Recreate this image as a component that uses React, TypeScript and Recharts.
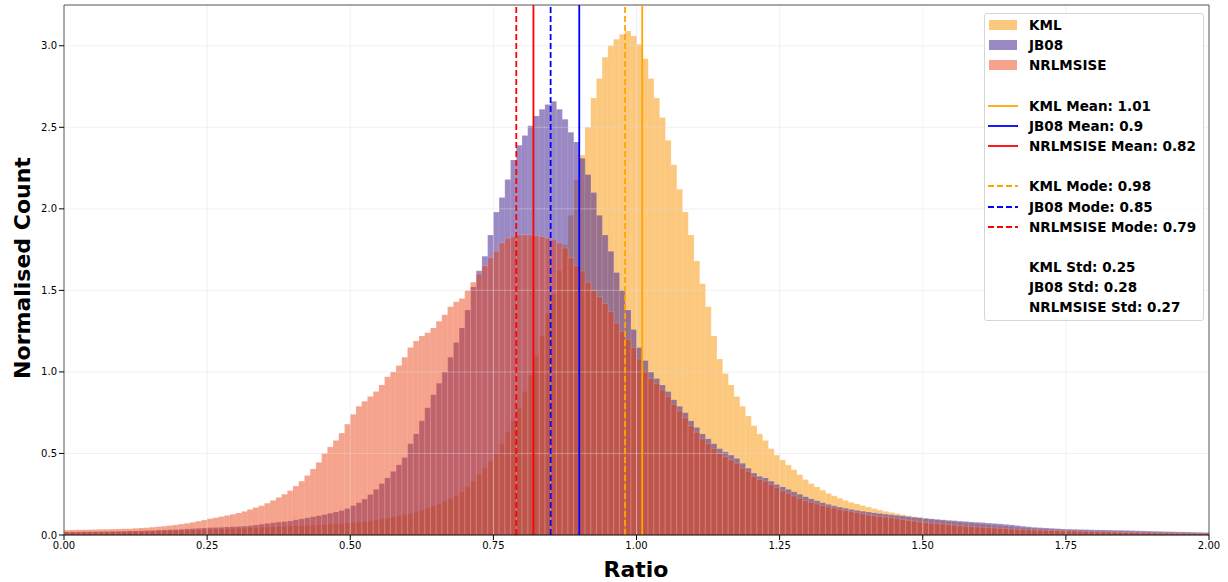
import { ComposedChart, Bar, XAxis, YAxis, ReferenceLine } from "recharts";

// histogram bins: 0.01 wide, starting at 0
const binWidth = 0.01;

const kmlCounts = [
    0.016, 0.017, 0.017, 0.018, 0.018, 0.019, 0.019, 0.020, 0.020, 0.021,
    0.021, 0.022, 0.022, 0.023, 0.023, 0.024, 0.025, 0.025, 0.026, 0.027,
    0.028, 0.029, 0.030, 0.031, 0.032, 0.034, 0.035, 0.036, 0.037, 0.039,
    0.040, 0.041, 0.043, 0.044, 0.046, 0.047, 0.049, 0.050, 0.052, 0.053,
    0.055, 0.057, 0.058, 0.060, 0.062, 0.064, 0.066, 0.068, 0.070, 0.073,
    0.076, 0.079, 0.083, 0.087, 0.092, 0.097, 0.103, 0.110, 0.117, 0.124,
    0.130, 0.140, 0.152, 0.165, 0.178, 0.192, 0.207, 0.222, 0.240, 0.265,
    0.295, 0.33, 0.37, 0.41, 0.45, 0.50, 0.56, 0.63, 0.70, 0.78,
    0.88, 0.98, 1.10, 1.22, 1.36, 1.48, 1.62, 1.78, 1.96, 2.18,
    2.33, 2.50, 2.68, 2.80, 2.93, 3.00, 3.04, 3.07, 3.09, 3.06,
    3.01, 2.92, 2.80, 2.68, 2.56, 2.42, 2.27, 2.12, 1.98, 1.84,
    1.68, 1.54, 1.40, 1.22, 1.08, 0.99, 0.92, 0.85, 0.79, 0.73,
    0.67, 0.62, 0.58, 0.53, 0.49, 0.46, 0.43, 0.40, 0.37, 0.34,
    0.315, 0.295, 0.275, 0.255, 0.240, 0.225, 0.212, 0.200, 0.190, 0.180,
    0.172, 0.162, 0.153, 0.145, 0.138, 0.131, 0.124, 0.118, 0.112, 0.107,
    0.102, 0.097, 0.093, 0.089, 0.085, 0.082, 0.078, 0.075, 0.072, 0.069,
    0.066, 0.063, 0.060, 0.057, 0.054, 0.051, 0.048, 0.045, 0.043, 0.041,
    0.039, 0.037, 0.035, 0.034, 0.032, 0.031, 0.030, 0.029, 0.028, 0.027,
    0.026, 0.025, 0.024, 0.023, 0.022, 0.021, 0.020, 0.019, 0.019, 0.018,
    0.017, 0.017, 0.016, 0.015, 0.015, 0.014, 0.014, 0.013, 0.013, 0.012,
];

const jb08Counts = [
    0.018, 0.019, 0.019, 0.020, 0.020, 0.020, 0.021, 0.021, 0.022, 0.022,
    0.023, 0.024, 0.025, 0.026, 0.027, 0.028, 0.030, 0.031, 0.032, 0.033,
    0.035, 0.037, 0.039, 0.041, 0.043, 0.045, 0.046, 0.047, 0.049, 0.050,
    0.052, 0.054, 0.057, 0.061, 0.066, 0.071, 0.075, 0.079, 0.082, 0.086,
    0.093, 0.099, 0.105, 0.112, 0.118, 0.125, 0.133, 0.141, 0.150, 0.162,
    0.180, 0.198, 0.220, 0.248, 0.280, 0.315, 0.350, 0.390, 0.430, 0.475,
    0.56, 0.62, 0.70, 0.78, 0.86, 0.93, 1.00, 1.09, 1.18, 1.27,
    1.38, 1.52, 1.62, 1.71, 1.84, 1.98, 2.07, 2.18, 2.30, 2.39,
    2.45, 2.51, 2.57, 2.61, 2.64, 2.66, 2.61, 2.55, 2.47, 2.41,
    2.31, 2.21, 2.10, 1.96, 1.84, 1.74, 1.61, 1.50, 1.38, 1.26,
    1.15, 1.07, 1.00, 0.96, 0.92, 0.88, 0.83, 0.79, 0.75, 0.70,
    0.66, 0.62, 0.59, 0.56, 0.53, 0.51, 0.49, 0.47, 0.44, 0.41,
    0.38, 0.36, 0.35, 0.33, 0.31, 0.295, 0.28, 0.265, 0.25, 0.235,
    0.222, 0.210, 0.198, 0.188, 0.179, 0.171, 0.164, 0.157, 0.151, 0.146,
    0.141, 0.136, 0.132, 0.128, 0.124, 0.120, 0.117, 0.113, 0.109, 0.106,
    0.102, 0.099, 0.096, 0.093, 0.090, 0.088, 0.085, 0.083, 0.080, 0.078,
    0.076, 0.073, 0.071, 0.068, 0.065, 0.062, 0.058, 0.054, 0.050, 0.047,
    0.045, 0.043, 0.041, 0.039, 0.037, 0.036, 0.035, 0.034, 0.033, 0.032,
    0.031, 0.031, 0.030, 0.029, 0.029, 0.028, 0.027, 0.026, 0.025, 0.024,
    0.023, 0.022, 0.021, 0.020, 0.019, 0.019, 0.018, 0.017, 0.016, 0.015,
];

const nrlmsiseCounts = [
    0.030, 0.031, 0.032, 0.032, 0.033, 0.034, 0.035, 0.035, 0.036, 0.037,
    0.038, 0.039, 0.041, 0.043, 0.045, 0.048, 0.051, 0.054, 0.058, 0.062,
    0.067, 0.072, 0.078, 0.085, 0.092, 0.100, 0.106, 0.113, 0.120, 0.127,
    0.135, 0.145, 0.157, 0.168, 0.180, 0.195, 0.212, 0.230, 0.250, 0.272,
    0.300, 0.330, 0.365, 0.405, 0.445, 0.500, 0.540, 0.580, 0.625, 0.680,
    0.740, 0.790, 0.820, 0.850, 0.880, 0.920, 0.970, 1.000, 1.040, 1.090,
    1.150, 1.190, 1.220, 1.240, 1.270, 1.310, 1.350, 1.400, 1.430, 1.450,
    1.500, 1.550, 1.600, 1.650, 1.700, 1.740, 1.790, 1.820, 1.830, 1.840,
    1.840, 1.840, 1.835, 1.830, 1.820, 1.810, 1.790, 1.760, 1.700, 1.650,
    1.620, 1.550, 1.500, 1.460, 1.420, 1.370, 1.300, 1.250, 1.200, 1.150,
    1.080, 1.010, 0.960, 0.930, 0.890, 0.850, 0.800, 0.760, 0.720, 0.670,
    0.630, 0.590, 0.560, 0.530, 0.500, 0.480, 0.460, 0.440, 0.410, 0.390,
    0.360, 0.340, 0.330, 0.310, 0.290, 0.270, 0.255, 0.240, 0.225, 0.210,
    0.200, 0.190, 0.180, 0.172, 0.165, 0.157, 0.150, 0.143, 0.137, 0.130,
    0.122, 0.118, 0.114, 0.110, 0.105, 0.100, 0.095, 0.090, 0.085, 0.080,
    0.076, 0.073, 0.070, 0.067, 0.063, 0.060, 0.057, 0.054, 0.051, 0.049,
    0.047, 0.045, 0.043, 0.041, 0.039, 0.037, 0.035, 0.034, 0.032, 0.031,
    0.030, 0.029, 0.028, 0.027, 0.026, 0.025, 0.024, 0.023, 0.022, 0.021,
    0.020, 0.019, 0.018, 0.017, 0.016, 0.015, 0.015, 0.014, 0.013, 0.013,
    0.012, 0.011, 0.011, 0.010, 0.010, 0.009, 0.009, 0.008, 0.008, 0.007,
];

const modelNames = ["KML", "JB08", "NRLMSISE"];
const histColors = ["#FAA326", "#4C2C96", "#E83400"];
const histOpacity = [0.6, 0.56, 0.45];
const lineColors = ["#FFA500", "#0000FF", "#FF0000"];
const meanValues = [1.01, 0.9, 0.82];
const modeValues = [0.98, 0.85, 0.79];
const stdValues = [0.25, 0.28, 0.27];

const xTicks = [0, 0.25, 0.5, 0.75, 1, 1.25, 1.5, 1.75, 2];
const yTicks = [0, 0.5, 1, 1.5, 2, 2.5, 3];
const yMax = 3.25;

// one row per bin, placed at the bin centre
const data = kmlCounts.map((v, i) => ({
    x: +((i + 0.5) * binWidth).toFixed(3),
    kml: v,
    jb08: jb08Counts[i],
    nrlmsise: nrlmsiseCounts[i],
}));
const seriesKeys = ["kml", "jb08", "nrlmsise"];
// every series sits on its own (same-scaled) x axis so the bars overlap instead of grouping
const axisIds = ["main", "ax2", "ax3"];

const font = "'DejaVu Sans', sans-serif";
const tickStyle = { fontFamily: font, fontSize: 10, fill: "#000" };

function LegendBox() {
    const rowTop = (i: number) => 25 + i * 20.17 - 10;
    const textStyle = {
        position: "absolute" as const,
        left: 1029,
        fontFamily: font,
        fontWeight: "bold" as const,
        fontSize: 13.5,
        lineHeight: "20px",
        color: "#000",
        whiteSpace: "nowrap" as const,
    };
    const rows: any[] = [];
    modelNames.forEach((name, k) => {
        rows.push(
            <div key={"p" + k}>
                <div
                    style={{
                        position: "absolute",
                        left: 989,
                        top: rowTop(k) + 5,
                        width: 28,
                        height: 10,
                        background: histColors[k],
                        opacity: histOpacity[k],
                    }}
                />
                <div style={{ ...textStyle, top: rowTop(k) }}>{name}</div>
            </div>
        );
        rows.push(
            <div key={"m" + k}>
                <svg style={{ position: "absolute", left: 988, top: rowTop(k + 4) }} width={30} height={20}>
                    <line x1={0} x2={30} y1={10} y2={10} stroke={lineColors[k]} strokeWidth={1.8} />
                </svg>
                <div style={{ ...textStyle, top: rowTop(k + 4) }}>{name} Mean: {meanValues[k]}</div>
            </div>
        );
        rows.push(
            <div key={"d" + k}>
                <svg style={{ position: "absolute", left: 988, top: rowTop(k + 8) }} width={30} height={20}>
                    <line x1={0} x2={30} y1={10} y2={10} stroke={lineColors[k]} strokeWidth={1.8} strokeDasharray="6 3" />
                </svg>
                <div style={{ ...textStyle, top: rowTop(k + 8) }}>{name} Mode: {modeValues[k]}</div>
            </div>
        );
        rows.push(
            <div key={"s" + k} style={{ ...textStyle, top: rowTop(k + 12) }}>
                {name} Std: {stdValues[k]}
            </div>
        );
    });
    return (
        <>
            <div
                style={{
                    position: "absolute",
                    left: 984,
                    top: 13,
                    width: 218,
                    height: 306,
                    border: "1px solid #d6d6d6",
                    borderRadius: 3,
                    background: "rgba(255,255,255,0.8)",
                }}
            />
            {rows}
        </>
    );
}

export default function App() {
    return (
        <div style={{ position: "absolute", left: 0, top: 0, width: 1228, height: 582, background: "#fff" }}>
            <ComposedChart
                width={1228}
                height={582}
                data={data}
                margin={{ top: 5, right: 19, bottom: 0, left: 0 }}
                barCategoryGap={0}
                barGap={0}
            >
                <XAxis xAxisId="ax2" dataKey="x" type="number" domain={[0, 2]} orientation="top" height={0} hide />
                <XAxis xAxisId="ax3" dataKey="x" type="number" domain={[0, 2]} orientation="top" height={0} hide />
                <XAxis
                    xAxisId="main"
                    dataKey="x"
                    type="number"
                    domain={[0, 2]}
                    ticks={xTicks}
                    tickFormatter={(v: number) => v.toFixed(2)}
                    height={47}
                    tick={tickStyle}
                    tickSize={5}
                    tickMargin={2}
                    axisLine={{ stroke: "#000", strokeWidth: 1.2 }}
                    tickLine={{ stroke: "#000" }}
                />
                <YAxis
                    type="number"
                    domain={[0, yMax]}
                    ticks={yTicks}
                    tickFormatter={(v: number) => v.toFixed(1)}
                    width={64}
                    tick={tickStyle}
                    tickSize={5}
                    tickMargin={2}
                    axisLine={{ stroke: "#555" }}
                    tickLine={{ stroke: "#000" }}
                />
                {seriesKeys.map((key, k) => (
                    <Bar
                        key={key}
                        dataKey={key}
                        xAxisId={axisIds[k]}
                        fill={histColors[k]}
                        fillOpacity={histOpacity[k]}
                        stroke="#ffffff"
                        strokeOpacity={0.25}
                        strokeWidth={0.6}
                        isAnimationActive={false}
                    />
                ))}
                {xTicks.slice(1, -1).map((t) => (
                    <ReferenceLine key={"gx" + t} xAxisId="main" x={t} stroke="#dddddd" strokeOpacity={0.4} />
                ))}
                {yTicks.slice(1).map((t) => (
                    <ReferenceLine key={"gy" + t} xAxisId="main" y={t} stroke="#dddddd" strokeOpacity={0.4} />
                ))}
                <ReferenceLine xAxisId="main" y={yMax} stroke="#555" />
                <ReferenceLine xAxisId="main" x={2} stroke="#555" />
                {modelNames.map((name, k) => (
                    <ReferenceLine
                        key={"mean" + name}
                        xAxisId="main"
                        x={meanValues[k]}
                        stroke={lineColors[k]}
                        strokeWidth={1.8}
                    />
                ))}
                {modelNames.map((name, k) => (
                    <ReferenceLine
                        key={"mode" + name}
                        xAxisId="main"
                        x={modeValues[k]}
                        stroke={lineColors[k]}
                        strokeWidth={1.8}
                        strokeDasharray="6 3"
                    />
                ))}
            </ComposedChart>
            <div
                style={{
                    position: "absolute",
                    left: 486,
                    top: 557,
                    width: 300,
                    textAlign: "center",
                    fontFamily: font,
                    fontWeight: "bold",
                    fontSize: 22,
                    color: "#000",
                }}
            >
                Ratio
            </div>
            <div
                style={{
                    position: "absolute",
                    left: 23 - 150,
                    top: 268 - 11,
                    width: 300,
                    height: 22,
                    lineHeight: "22px",
                    textAlign: "center",
                    transform: "rotate(-90deg)",
                    fontFamily: font,
                    fontWeight: "bold",
                    fontSize: 22,
                    color: "#000",
                }}
            >
                Normalised Count
            </div>
            <LegendBox />
        </div>
    );
}
